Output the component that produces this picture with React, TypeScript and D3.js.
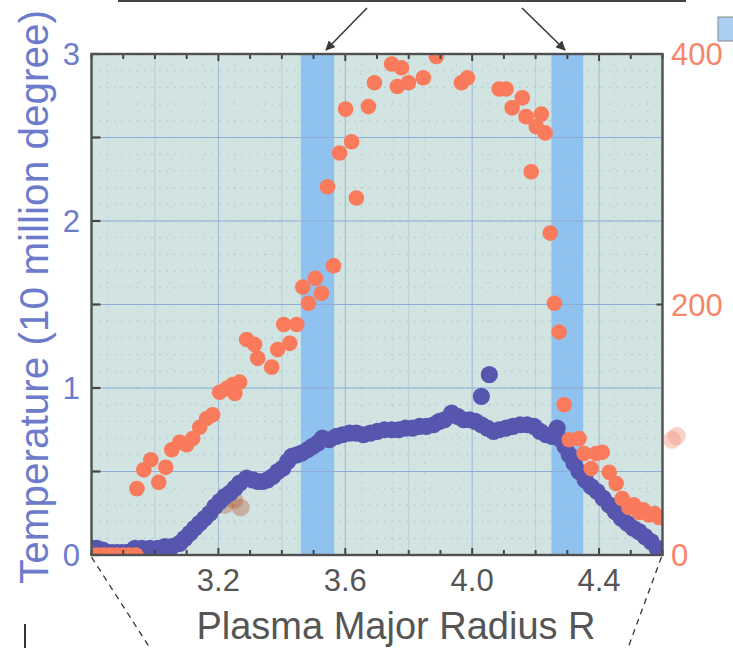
import React from "react";
import * as d3 from "d3";

// ---------- data ----------
const xTickLabels = [3.2, 3.6, 4.0, 4.4];
const leftTickLabels = [0, 1, 2, 3];
const rightTickLabels = [0, 200, 400];
const heatingBands: [number, number][] = [
  [3.46, 3.565],
  [4.25, 4.35],
];

// Temperature (10 million degree), left axis: [R, T]
const temperature: [number, number][] = [
  [2.8, 0.04], [2.817, 0.04], [2.836, 0.03], [2.85, 0.015], [2.865, 0.015], [2.88, 0.015],
  [2.895, 0.015], [2.91, 0.015], [2.925, 0.02], [2.937, 0.04], [2.959, 0.04], [2.984, 0.04],
  [3.009, 0.04], [3.031, 0.05], [3.053, 0.05], [3.078, 0.07], [3.094, 0.1], [3.11, 0.13],
  [3.125, 0.16], [3.141, 0.19], [3.157, 0.22], [3.173, 0.25], [3.189, 0.29], [3.204, 0.32],
  [3.22, 0.35], [3.236, 0.37], [3.252, 0.4], [3.267, 0.43], [3.289, 0.46], [3.308, 0.45],
  [3.324, 0.44], [3.34, 0.44], [3.355, 0.45], [3.371, 0.47], [3.387, 0.5], [3.403, 0.52],
  [3.418, 0.56], [3.431, 0.59], [3.447, 0.6], [3.462, 0.61], [3.481, 0.63], [3.497, 0.65],
  [3.513, 0.67], [3.528, 0.7], [3.55, 0.69], [3.572, 0.71], [3.591, 0.72], [3.613, 0.73],
  [3.635, 0.73], [3.657, 0.72], [3.679, 0.73], [3.701, 0.74], [3.723, 0.75], [3.746, 0.75],
  [3.768, 0.75], [3.79, 0.76], [3.812, 0.76], [3.834, 0.77], [3.856, 0.77], [3.878, 0.78],
  [3.897, 0.8], [3.913, 0.81], [3.935, 0.85], [3.954, 0.83], [3.973, 0.81], [3.992, 0.81],
  [4.01, 0.8], [4.029, 0.78], [4.048, 0.76], [4.067, 0.74], [4.085, 0.75], [4.107, 0.76],
  [4.129, 0.77], [4.151, 0.78], [4.173, 0.78], [4.195, 0.77], [4.214, 0.74], [4.233, 0.72],
  [4.252, 0.71], [4.268, 0.76], [4.28, 0.69], [4.293, 0.65], [4.306, 0.6], [4.321, 0.55],
  [4.337, 0.5], [4.356, 0.45], [4.375, 0.41], [4.394, 0.38], [4.413, 0.34], [4.432, 0.3],
  [4.451, 0.26], [4.47, 0.22], [4.489, 0.19], [4.508, 0.16], [4.526, 0.14], [4.545, 0.11],
  [4.564, 0.08], [4.583, 0.04], [4.596, 0.02],
  [4.029, 0.95], [4.054, 1.08],
];

// Density, right axis: [R, n]
const density: [number, number][] = [
  [2.8, 0], [2.82, 0], [2.84, 0], [2.86, 0], [2.88, 0], [2.9, 0], [2.92, 0], [2.94, 0],
  [2.943, 53], [2.965, 68], [2.987, 76], [3.012, 58], [3.034, 70], [3.053, 84], [3.078, 90],
  [3.1, 88], [3.119, 93], [3.141, 102], [3.163, 109], [3.182, 112], [3.204, 130], [3.226, 133],
  [3.245, 136], [3.267, 138], [3.252, 129], [3.289, 172], [3.314, 168], [3.324, 157],
  [3.368, 150], [3.387, 164], [3.425, 169], [3.406, 184], [3.447, 184], [3.484, 201],
  [3.466, 214], [3.525, 209], [3.506, 221], [3.563, 231], [3.544, 294], [3.635, 285],
  [3.582, 321], [3.62, 330], [3.601, 356], [3.673, 358], [3.692, 377], [3.746, 392],
  [3.777, 389], [3.764, 374], [3.799, 377], [3.846, 381], [3.887, 398], [3.966, 377],
  [3.985, 381], [4.085, 372], [4.107, 372], [4.158, 365], [4.126, 357], [4.17, 350],
  [4.218, 352], [4.202, 342], [4.23, 337], [4.186, 306], [4.246, 257], [4.259, 201],
  [4.274, 178], [4.29, 120], [4.306, 92], [4.337, 93], [4.353, 81], [4.391, 81], [4.41, 82],
  [4.375, 69], [4.432, 66], [4.454, 57], [4.473, 45], [4.494, 38], [4.51, 40], [4.526, 34],
  [4.54, 36], [4.557, 32], [4.575, 33], [4.589, 30],
];

// faded blot marks on the original figure: [R, n]
const blots: [number, number][] = [
  [3.22, 40], [3.25, 44], [3.27, 38], [4.63, 92], [4.645, 95],
];

// ---------- layout ----------
const W = 733;
const H = 648;
const L = 91.5;
const R = 662.5;
const T = 54;
const B = 555;

const x = d3.scaleLinear().domain([2.8, 4.6]).range([L, R]);
const yL = d3.scaleLinear().domain([0, 3]).range([B, T]);
const yR = d3.scaleLinear().domain([0, 400]).range([B, T]);

const BLUE = "#5656ae";
const ORANGE = "#fa7a5c";
const LEFT_TXT = "#6d7bcb";
const RIGHT_TXT = "#f7856a";
const FONT = "'Liberation Sans', Arial, sans-serif";

export default function App() {
  const minorX = d3.range(2.8, 4.6001, 0.1);
  const gridX = d3.range(2.8, 4.6001, 0.2);
  const gridY = d3.range(0, 3.0001, 0.5);
  const dotY = d3.range(0.1, 3, 0.1);
  const dotX = d3.range(2.85, 4.6, 0.1);

  return (
    <div style={{ position: "absolute", left: 0, top: 0 }}>
      <svg width={W} height={H} style={{ display: "block", background: "#fff" }}>
        <defs>
          <clipPath id="plotclip">
            <rect x={L} y={T} width={R - L} height={B - T} />
          </clipPath>
          <marker id="arr" viewBox="0 0 10 10" refX="9" refY="5" markerWidth="6" markerHeight="6" orient="auto">
            <path d="M0,0 L10,5 L0,10 z" fill="#3a3a3a" />
          </marker>
        </defs>

        {/* top decoration */}
        <line x1={118} x2={686} y1={1} y2={1} stroke="#444" strokeWidth={2} />
        <line x1={367} y1={8} x2={326} y2={50} stroke="#3a3a3a" strokeWidth={1.6} markerEnd="url(#arr)" />
        <line x1={522} y1={8} x2={565} y2={50} stroke="#3a3a3a" strokeWidth={1.6} markerEnd="url(#arr)" />
        <rect x={718} y={17} width={20} height={24} fill="#a9d0f2" stroke="#888" strokeWidth={1} />

        {/* plot background */}
        <rect x={L} y={T} width={R - L} height={B - T} fill="#d1e4e1" />
        <g clipPath="url(#plotclip)">
          {heatingBands.map(([a, b], i) => (
            <rect key={i} x={x(a)} y={T} width={x(b) - x(a)} height={B - T} fill="#8fc2ee" />
          ))}
          {dotY.map((v, i) => (
            <line key={"dy" + i} x1={L} x2={R} y1={yL(v)} y2={yL(v)} stroke="#9fb5c8" strokeWidth={1} strokeDasharray="1.5,6" opacity={0.7} />
          ))}
          {dotX.map((v, i) => (
            <line key={"dx" + i} x1={x(v)} x2={x(v)} y1={T} y2={B} stroke="#9fb5c8" strokeWidth={1} strokeDasharray="1.5,8" opacity={0.5} />
          ))}
          {gridX.map((v, i) => (
            <line key={"gx" + i} x1={x(v)} x2={x(v)} y1={T} y2={B} stroke="#98b3d3" strokeWidth={1} opacity={xTickLabels.some((t) => Math.abs(t - v) < 1e-6) ? 0.9 : 0.45} />
          ))}
          {gridY.map((v, i) => (
            <line key={"gy" + i} x1={L} x2={R} y1={yL(v)} y2={yL(v)} stroke="#8fabd6" strokeWidth={1.2} />
          ))}

          {/* blots */}
          {blots.map(([r, n], i) => (
            <circle key={"b" + i} cx={x(r)} cy={yR(n)} r={9} fill={i < 3 ? "#b4502f" : "#f08a70"} opacity={0.35} />
          ))}

          {temperature.map(([r, t], i) => (
            <circle key={"t" + i} cx={x(r)} cy={yL(t)} r={8.6} fill={BLUE} />
          ))}
          {density.map(([r, n], i) => (
            <circle key={"n" + i} cx={x(r)} cy={yR(n)} r={7.8} fill={ORANGE} />
          ))}
        </g>
        {/* blot outside plot */}
        {blots.slice(3).map(([r, n], i) => (
          <circle key={"bo" + i} cx={x(r)} cy={yR(n)} r={9} fill="#f29a86" opacity={0.45} />
        ))}

        {/* ticks */}
        {minorX.map((v, i) => {
          const major = xTickLabels.some((t) => Math.abs(t - v) < 1e-6);
          const len = major ? 7 : 5;
          return (
            <g key={"tx" + i}>
              <line x1={x(v)} x2={x(v)} y1={T} y2={T + len} stroke="#444" strokeWidth={2} />
              <line x1={x(v)} x2={x(v)} y1={B} y2={B - len} stroke="#444" strokeWidth={2} />
            </g>
          );
        })}
        {gridY.map((v, i) => (
          <line key={"ty" + i} x1={L} x2={L + 9} y1={yL(v)} y2={yL(v)} stroke="#444" strokeWidth={2.2} />
        ))}
        <line x1={R} x2={R - 6} y1={yR(200)} y2={yR(200)} stroke="#444" strokeWidth={2} />

        {/* frame */}
        <rect x={L} y={T} width={R - L} height={B - T} fill="none" stroke="#505050" strokeWidth={2.4} />

        {/* tick labels */}
        {xTickLabels.map((v) => (
          <text key={"xl" + v} x={x(v)} y={591} textAnchor="middle" fontFamily={FONT} fontSize={31} fill="#555">
            {v.toFixed(1)}
          </text>
        ))}
        {leftTickLabels.map((v) => (
          <text key={"ll" + v} x={80} y={yL(v) + 11} textAnchor="end" fontFamily={FONT} fontSize={31} fill={LEFT_TXT}>
            {v}
          </text>
        ))}
        {rightTickLabels.map((v) => (
          <text key={"rl" + v} x={671} y={yR(v) + 11} textAnchor="start" fontFamily={FONT} fontSize={31} fill={RIGHT_TXT}>
            {v}
          </text>
        ))}

        {/* axis titles */}
        <text x={396} y={639} textAnchor="middle" fontFamily={FONT} fontSize={38} fill="#555">
          Plasma Major Radius R
        </text>
        <text transform={`translate(48,297) rotate(-90)`} textAnchor="middle" fontFamily={FONT} fontSize={40.5} fill={LEFT_TXT}>
          Temperature (10 million degree)
        </text>

        {/* bottom decoration */}
        <line x1={L} y1={B + 2} x2={150} y2={H} stroke="#333" strokeWidth={1.3} strokeDasharray="6,5" />
        <line x1={R - 1} y1={B + 2} x2={628} y2={H} stroke="#333" strokeWidth={1.3} strokeDasharray="6,5" />
        <line x1={25} y1={624} x2={25} y2={H} stroke="#333" strokeWidth={2} />
      </svg>
    </div>
  );
}
